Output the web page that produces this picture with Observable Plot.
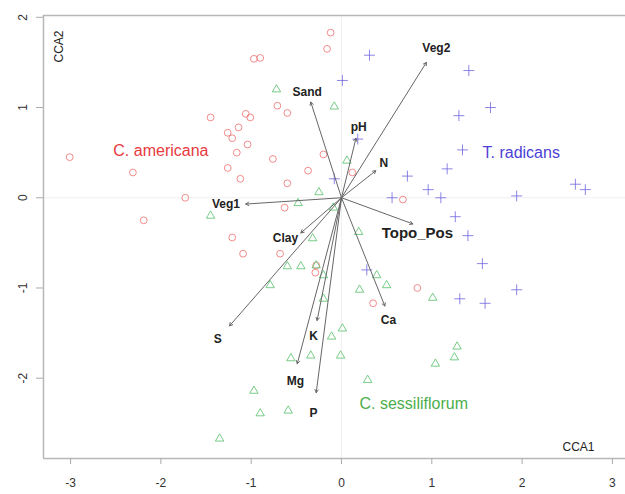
<!DOCTYPE html>
<html><head><meta charset="utf-8">
<script src="https://cdn.jsdelivr.net/npm/d3@7"></script>
<script src="https://cdn.jsdelivr.net/npm/@observablehq/plot@0.6"></script>
<style>body{margin:0;background:#fff} svg{display:block}</style>
</head><body><div id="chart"></div>
<script>
// C. americana (circles)
const americanaX = [-3.01,-2.31,-1.73,-2.19,-1.45,-1.26,-1.21,-1.14,-1.06,-1.01,-1.04,-1.16,-1.26,-1.12,-0.97,-0.90,-0.71,-0.60,-0.76,-0.37,-0.60,-0.63,-1.21,-1.09,-0.68,-0.12,-0.16,-0.20,0.12,0.68,-0.28,-0.29,0.84,0.35];
const americanaY = [0.45,0.28,0.00,-0.25,0.89,0.72,0.66,0.78,0.93,0.89,0.59,0.50,0.33,0.21,1.54,1.55,1.02,0.94,0.43,0.30,0.16,-0.11,-0.44,-0.62,-0.62,1.83,1.65,0.48,0.28,-0.02,-0.75,-0.83,-1.00,-1.17];
// T. radicans (plus)
const radicansX = [0.31,1.41,0.01,1.65,1.30,1.34,1.17,0.73,0.96,1.10,0.56,1.94,2.59,2.70,1.26,1.40,0.18,-0.08,1.56,1.94,1.31,1.59,0.28];
const radicansY = [1.58,1.41,1.30,1.00,0.91,0.53,0.32,0.24,0.09,0.00,0.00,0.02,0.15,0.09,-0.21,-0.42,0.65,0.21,-0.73,-1.02,-1.12,-1.17,-0.80];
// C. sessiliflorum (triangles)
const sessiliX = [-0.72,-0.08,-1.45,-0.48,-0.25,0.06,0.19,-0.32,-0.45,-0.60,-0.28,-0.79,-0.20,0.39,0.20,0.50,1.01,0.01,-0.11,-0.34,-0.01,-0.56,0.29,1.28,1.25,1.04,-0.97,-0.90,-0.59,-1.35,-0.09,-0.20];
const sessiliY = [1.20,1.01,-0.20,-0.06,0.06,0.41,-0.38,-0.45,-0.76,-0.76,-0.75,-0.97,-1.12,-0.86,-1.02,-0.97,-1.11,-1.45,-1.54,-1.75,-1.75,-1.78,-2.02,-1.65,-1.77,-1.84,-2.14,-2.39,-2.36,-2.67,-0.11,-0.86];
// environmental vectors
const envNames = ["Veg2","Sand","pH","N","Topo_Pos","Veg1","Clay","S","K","Mg","P","Ca"];
const envX = [0.94,-0.34,0.16,0.38,0.79,-1.06,-0.45,-1.24,-0.27,-0.49,-0.28,0.48];
const envY = [1.50,1.06,0.66,0.30,-0.29,-0.07,-0.39,-1.42,-1.36,-1.84,-2.16,-1.20];
const envLabelX = [1.05,-0.38,0.19,0.47,0.84,-1.28,-0.62,-1.37,-0.31,-0.51,-0.31,0.52];
const envLabelY = [1.66,1.17,0.78,0.38,-0.39,-0.07,-0.45,-1.57,-1.53,-2.03,-2.39,-1.36];
// group labels
const groupNames = ["C. americana","T. radicans","C. sessiliflorum"];
const groupX = [-2.00,1.99,0.80];
const groupY = [0.52,0.50,-2.28];
const groupColors = ["#e63a3e","#4d40d6","#4cae4c"];
const xTicks = [-3,-2,-1,0,1,2,3];
const yTicks = [-2,-1,0,1,2];

const toRows = (xs, ys) => xs.map((x, i) => ({x, y: ys[i]}));
const americana = toRows(americanaX, americanaY);
const radicans = toRows(radicansX, radicansY);
const sessili = toRows(sessiliX, sessiliY);
const env = envNames.map((n, i) => ({name: n, x: envX[i], y: envY[i], lx: envLabelX[i], ly: envLabelY[i]}));
const groups = groupNames.map((n, i) => ({name: n, x: groupX[i], y: groupY[i], c: groupColors[i]}));

const xDomain = [-3.30, 3.145];
const yDomain = [-2.89, 2.02];
const font = "'Liberation Sans', Arial, Helvetica, sans-serif";

const chart = Plot.plot({
  width: 625, height: 494,
  marginLeft: 43, marginRight: 0, marginTop: 15, marginBottom: 36,
  x: {domain: xDomain},
  y: {domain: yDomain},
  style: {fontFamily: font, background: "#fff"},
  marks: [
    Plot.ruleY([0], {stroke: "#f0f0f0"}),
    Plot.ruleX([0], {stroke: "#f0f0f0"}),
    Plot.ruleY(yDomain, {stroke: "#b8b8b8", strokeWidth: 1.5}),
    Plot.ruleX([xDomain[0]], {stroke: "#b8b8b8", strokeWidth: 1.5}),
    Plot.axisX({ticks: xTicks, tickSize: 6, tickPadding: 14, fontSize: 12, stroke: "#aaa", fill: "#333", label: null, tickFormat: d => d < 0 ? "-" + Math.abs(d) : String(d)}),
    Plot.axisY({ticks: yTicks, tickSize: 7, tickPadding: 10, tickRotate: -90, fontSize: 12, stroke: "#aaa", fill: "#333", label: null, tickFormat: d => d < 0 ? "-" + Math.abs(d) : String(d)}),
    Plot.dot(americana, {x: "x", y: "y", r: 3.4, symbol: "circle", fill: "none", stroke: "#ee6e6e", strokeWidth: 0.8}),
    Plot.dot(radicans, {x: "x", y: "y", r: 3.6, symbol: "plus", fill: "none", stroke: "#6f66dd", strokeWidth: 0.8}),
    Plot.dot(sessili, {x: "x", y: "y", r: 4.0, symbol: "triangle2", fill: "none", stroke: "#55c06a", strokeWidth: 0.8}),
    Plot.arrow(env, {x1: () => 0, y1: () => 0, x2: "x", y2: "y", stroke: "#666", strokeWidth: 1, headLength: 5}),
    Plot.text(env.filter(d => d.name !== "Topo_Pos"), {x: "lx", y: "ly", text: "name", fontSize: 12, fontWeight: "bold", fill: "#222"}),
    Plot.text(env.filter(d => d.name === "Topo_Pos"), {x: "lx", y: "ly", text: "name", fontSize: 15, fontWeight: "bold", fill: "#222"}),
    Plot.text(groups, {x: "x", y: "y", text: "name", fill: "c", fontSize: 16}),
    Plot.text(["CCA2"], {x: () => xDomain[0], y: () => yDomain[1], text: d => d, rotate: -90, dx: 16, dy: 31, fontSize: 12, fill: "#222"}),
    Plot.text(["CCA1"], {x: () => xDomain[1], y: () => yDomain[0], text: d => d, dx: -47, dy: -11, fontSize: 12, fill: "#222"})
  ]
});
document.getElementById("chart").appendChild(chart);
</script>
</body></html>
